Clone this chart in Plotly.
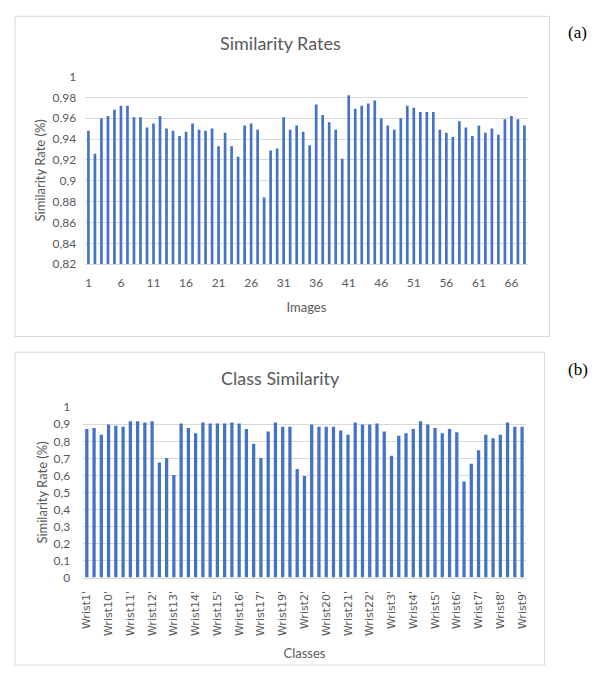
import plotly.graph_objects as go

# ---------------- data ----------------
images = list(range(1, 69))
similarity_rates = [
    0.948, 0.926, 0.960, 0.962, 0.968, 0.972, 0.972, 0.961, 0.961, 0.951,
    0.955, 0.962, 0.950, 0.948, 0.943, 0.947, 0.955, 0.949, 0.948, 0.950,
    0.933, 0.946, 0.933, 0.923, 0.953, 0.955, 0.949, 0.884, 0.929, 0.931,
    0.961, 0.949, 0.953, 0.947, 0.934, 0.973, 0.963, 0.956, 0.949, 0.921,
    0.982, 0.969, 0.972, 0.974, 0.977, 0.960, 0.953, 0.949, 0.960, 0.972,
    0.970, 0.966, 0.966, 0.966, 0.949, 0.946, 0.942, 0.957, 0.951, 0.943,
    0.953, 0.946, 0.950, 0.944, 0.959, 0.962, 0.959, 0.953,
]
image_ticks = [1, 6, 11, 16, 21, 26, 31, 36, 41, 46, 51, 56, 61, 66]

class_positions = list(range(1, 62))
class_similarity = [
    0.872, 0.878, 0.839, 0.899, 0.891, 0.885, 0.918, 0.918, 0.910, 0.918,
    0.675, 0.702, 0.602, 0.904, 0.878, 0.847, 0.910, 0.904, 0.904, 0.904,
    0.910, 0.904, 0.872, 0.786, 0.702, 0.858, 0.910, 0.885, 0.885, 0.637,
    0.597, 0.899, 0.885, 0.885, 0.885, 0.864, 0.839, 0.910, 0.899, 0.899,
    0.904, 0.858, 0.715, 0.832, 0.847, 0.872, 0.918, 0.899, 0.878, 0.847,
    0.872, 0.853, 0.564, 0.669, 0.748, 0.839, 0.818, 0.839, 0.910, 0.885,
    0.885,
]
class_tick_pos = list(range(1, 62, 3))
class_tick_labels = [
    "Wrist1'", "Wrist10'", "Wrist11'", "Wrist12'", "Wrist13'", "Wrist14'",
    "Wrist15'", "Wrist16'", "Wrist17'", "Wrist19'", "Wrist2'", "Wrist20'",
    "Wrist21'", "Wrist22'", "Wrist3'", "Wrist4'", "Wrist5'", "Wrist6'",
    "Wrist7'", "Wrist8'", "Wrist9'",
]

# ---------------- styling ----------------
W, H = 599, 677
BAR = "#4472C4"
GRID = "#d9d9d9"
TXT = "#595959"
FONT = "Lato, 'Open Sans', sans-serif"


def px_x(p):
    return p / W


def px_y(p):
    return 1 - p / H


fig = go.Figure()
fig.add_trace(go.Bar(x=images, y=similarity_rates, marker_color=BAR,
                     marker_line_width=0, xaxis="x", yaxis="y", width=0.41,
                     showlegend=False))
fig.add_trace(go.Bar(x=class_positions, y=class_similarity, marker_color=BAR,
                     marker_line_width=0, xaxis="x2", yaxis="y2", width=0.45,
                     showlegend=False))

axis_font = dict(family=FONT, size=12, color=TXT)

fig.update_layout(
    width=W, height=H,
    margin=dict(l=0, r=0, t=0, b=0),
    paper_bgcolor="white", plot_bgcolor="white",
    separators=",.",
    font=dict(family=FONT, color=TXT),
    xaxis=dict(domain=[px_x(83), px_x(530)], range=[0.5, 68.5],
               tickvals=image_ticks, ticktext=[str(v) for v in image_ticks],
               tickfont=axis_font, showgrid=False, zeroline=False,
               showline=True, linecolor=GRID, ticks="", anchor="y",
               ticklabelstandoff=7,
               title=dict(text="Images", font=dict(family=FONT, size=13, color=TXT),
                          standoff=14)),
    yaxis=dict(domain=[px_y(262), px_y(70)], range=[0.82, 1.0],
               dtick=0.02, tick0=0.82, tickfont=axis_font,
               gridcolor=GRID, zeroline=False, showline=False, anchor="x",
               ticklabelstandoff=8,
               title=dict(text="Similarity Rate (%)",
                          font=dict(family=FONT, size=13, color=TXT),
                          standoff=4)),
    xaxis2=dict(domain=[px_x(81), px_x(528)], range=[0.5, 61.5],
                tickvals=class_tick_pos, ticktext=class_tick_labels,
                tickangle=-90,
                tickfont=dict(family="DejaVu Sans, sans-serif", size=11, color=TXT),
                showgrid=False, zeroline=False, showline=True, linecolor=GRID,
                ticks="", anchor="y2", ticklabelstandoff=8,
                title=dict(text="Classes", font=dict(family=FONT, size=13, color=TXT),
                           standoff=13)),
    yaxis2=dict(domain=[px_y(582.5), px_y(408.3)], range=[0, 1.0],
                dtick=0.1, tickfont=axis_font, gridcolor=GRID,
                zeroline=False, showline=False, anchor="x2",
                ticklabelstandoff=12,
                title=dict(text="Similarity Rate (%)",
                           font=dict(family=FONT, size=13, color=TXT),
                           standoff=2)),
)

# chart borders
fig.add_shape(type="rect", xref="paper", yref="paper",
              x0=px_x(12), x1=px_x(552), y0=px_y(336), y1=px_y(8.5),
              line=dict(color=GRID, width=1), fillcolor="rgba(0,0,0,0)")
fig.add_shape(type="rect", xref="paper", yref="paper",
              x0=px_x(12), x1=px_x(547), y0=px_y(672), y1=px_y(352),
              line=dict(color=GRID, width=1), fillcolor="rgba(0,0,0,0)")

# titles
fig.add_annotation(text="Similarity Rates", xref="paper", yref="paper",
                   x=px_x(280), y=px_y(36), showarrow=False,
                   font=dict(family=FONT, size=18, color=TXT),
                   xanchor="center", yanchor="middle")
fig.add_annotation(text="Class Similarity", xref="paper", yref="paper",
                   x=px_x(280), y=px_y(378), showarrow=False,
                   font=dict(family=FONT, size=18, color=TXT),
                   xanchor="center", yanchor="middle")

# panel labels
fig.add_annotation(text="(a)", xref="paper", yref="paper",
                   x=px_x(580), y=px_y(25), showarrow=False,
                   font=dict(family="Liberation Serif, serif", size=17, color="black"),
                   xanchor="center", yanchor="middle")
fig.add_annotation(text="(b)", xref="paper", yref="paper",
                   x=px_x(581), y=px_y(370), showarrow=False,
                   font=dict(family="Liberation Serif, serif", size=17, color="black"),
                   xanchor="center", yanchor="middle")

fig.write_html(
    "out.html",
    config={"displayModeBar": False},
    post_script="document.body.style.margin='0px';"
                "document.documentElement.style.overflow='hidden';",
)
